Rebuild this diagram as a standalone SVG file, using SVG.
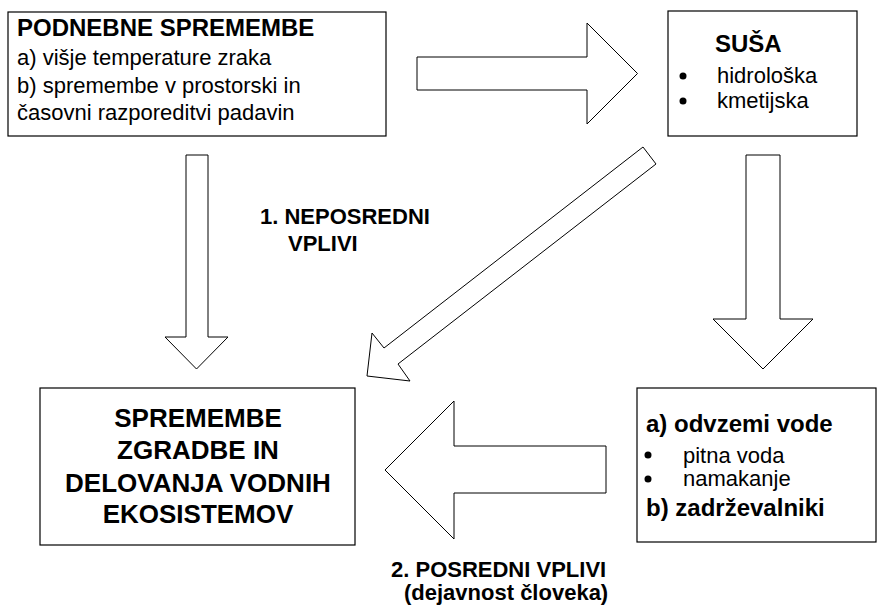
<svg xmlns="http://www.w3.org/2000/svg" width="877" height="605" viewBox="0 0 877 605">
<style>
.box{fill:#fff;stroke:#000;stroke-width:1.2}
.arr{fill:#fff;stroke:#000;stroke-width:1;stroke-linejoin:miter}
text{font-family:"Liberation Sans",Arial,sans-serif;fill:#000}
.b{font-weight:bold}
.h{font-size:24px}
.r{font-size:22px}
.c{font-size:26px;text-anchor:middle}
.l{font-size:22px;font-weight:bold}
</style>
<rect width="877" height="605" fill="#fff"/>
<g id="connectors">
<polygon class="arr" points="417,57 587,57 587,23 637.5,73.5 587,124 587,90 417,90"/>
<polygon class="arr" points="186,155 208,155 208,337 228,337 196.5,369 165,337 186,337"/>
<polygon class="arr" points="746,155 780,155 780,319 813,319 763,369 713,319 746,319"/>
<polygon class="arr" points="606,446 606,493 454,493 454,539 385,470 454,401 454,446"/>
<polygon class="arr" points="643,147 656,164 398,364 410,381 367,376 372,333 384,348"/>
</g>
<g id="node-podnebne">
<rect class="box" x="8" y="12" width="378" height="124"/>
<text class="b h" x="17" y="36">PODNEBNE SPREMEMBE</text>
<text class="r" x="17" y="65">a) višje temperature zraka</text>
<text class="r" x="17" y="93">b) spremembe v prostorski in</text>
<text class="r" x="17" y="120">časovni razporeditvi padavin</text>
</g>
<g id="node-susa">
<rect class="box" x="668" y="11" width="189" height="125"/>
<text class="b h" x="715" y="52">SUŠA</text>
<circle cx="683" cy="76" r="3.5"/>
<circle cx="683" cy="101" r="3.5"/>
<text class="r" x="717" y="83">hidrološka</text>
<text class="r" x="717" y="108">kmetijska</text>
</g>
<g id="node-spremembe">
<rect class="box" x="40" y="388" width="315" height="157"/>
<text class="b c" x="198" y="427">SPREMEMBE</text>
<text class="b c" x="198" y="459">ZGRADBE IN</text>
<text class="b c" x="198" y="492">DELOVANJA VODNIH</text>
<text class="b c" x="198" y="523">EKOSISTEMOV</text>
</g>
<g id="node-odvzemi">
<rect class="box" x="637" y="388" width="239" height="154"/>
<text class="b h" x="646" y="432">a) odvzemi vode</text>
<circle cx="648" cy="455" r="3.5"/>
<circle cx="648" cy="479" r="3.5"/>
<text class="r" x="683" y="463">pitna voda</text>
<text class="r" x="683" y="486">namakanje</text>
<text class="b h" x="646" y="516">b) zadrževalniki</text>
</g>
<g id="labels">
<text class="l" x="260" y="224">1. NEPOSREDNI</text>
<text class="l" x="288" y="251">VPLIVI</text>
<text class="l" x="391" y="577">2. POSREDNI VPLIVI</text>
<text class="l" x="404" y="600">(dejavnost človeka)</text>
</g>
</svg>
